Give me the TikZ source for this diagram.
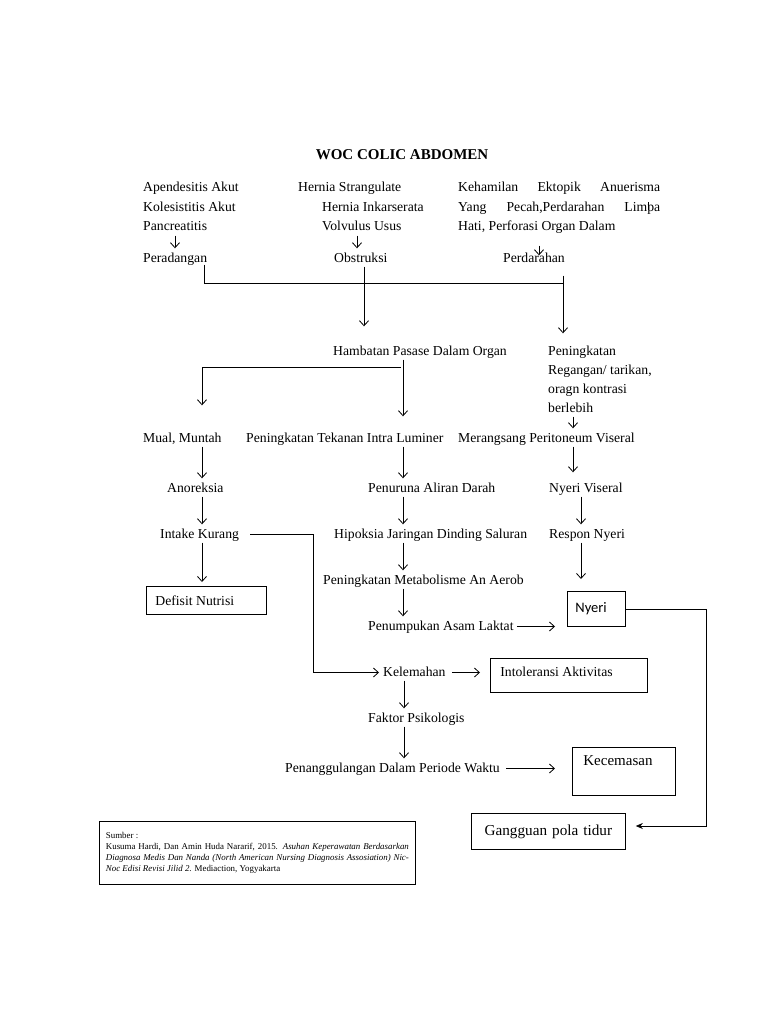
\documentclass[tikz,border=0pt]{standalone}
\usepackage{fontspec}
\setmainfont{Liberation Serif}
\newfontfamily\calib{Carlito}
\usetikzlibrary{arrows.meta,calc}
\begin{document}
\begin{tikzpicture}[x=1pt,y=-1pt,
  txt/.style={inner sep=0pt, anchor=base west, font=\fontsize{13.7}{16}\selectfont, text height=9.5pt, text depth=2.5pt},
  arr/.style={draw, line width=0.8pt, -{Straight Barb[length=5pt,width=9pt,line width=0.8pt]}, shorten <=2pt, shorten >=4pt},
  ln/.style={draw, line width=0.8pt},
  boxn/.style={draw, line width=0.8pt, anchor=north west, inner ysep=0pt, align=flush left, font=\fontsize{13.7}{16}\selectfont},
]
\fill[white] (0,0) rectangle (768,1024);
\useasboundingbox (0,0) rectangle (768,1024);

% title
\node[font=\fontsize{15}{18}\selectfont\bfseries, anchor=base, inner sep=0pt] (title) at (402,160) {WOC COLIC ABDOMEN};

% column A
\node[txt] (a1) at (143,192) {Apendesitis Akut};
\node[txt] (a2) at (143,212) {Kolesistitis Akut};
\node[txt] (a3) at (143,231) {Pancreatitis};
\node[txt] (a4) at (143,262) {Peradangan};
% column B
\node[txt] (b1) at (298,192) {Hernia Strangulate};
\node[txt] (b2) at (322,212) {Hernia Inkarserata};
\node[txt] (b3) at (322,231) {Volvulus Usus};
\node[txt] (b4) at (334,262) {Obstruksi};
% column C
\node[txt] (c1) at (458,192) {\makebox[202pt][s]{Kehamilan Ektopik Anuerisma}};
\node[txt] (c2) at (458,212) {\makebox[202pt][s]{Yang Pecah,Perdarahan Limpa}};
\node[txt] (c3) at (458,231) {Hati, Perforasi Organ Dalam};
\node[txt] (c4) at (503,262) {Perdarahan};

% second level
\node[txt] (d1) at (333,355) {Hambatan Pasase Dalam Organ};
\node[txt] (e1) at (548,355) {Peningkatan};
\node[txt] (e2) at (548,374) {Regangan/ tarikan,};
\node[txt] (e3) at (548,393) {oragn kontrasi};
\node[txt] (e4) at (548,412) {berlebih};

\node[txt] (f1) at (143,442) {Mual, Muntah};
\node[txt] (f2) at (246,442) {Peningkatan Tekanan Intra Luminer};
\node[txt] (f3) at (458,442) {Merangsang Peritoneum Viseral};

\node[txt] (g1) at (167,492) {Anoreksia};
\node[txt] (g2) at (368,492) {Penuruna Aliran Darah};
\node[txt] (g3) at (549,492) {Nyeri Viseral};

\node[txt] (h1) at (160,538) {Intake Kurang};
\node[txt] (h2) at (334,538) {Hipoksia Jaringan Dinding Saluran};
\node[txt] (h3) at (549,538) {Respon Nyeri};

\node[txt] (i2) at (323,584) {Peningkatan Metabolisme An Aerob};
\node[txt] (j2) at (368,630) {Penumpukan Asam Laktat};
\node[txt] (k)  at (383,676) {Kelemahan};
\node[txt] (l)  at (368,722) {Faktor Psikologis};
\node[txt] (m)  at (285,772) {Penanggulangan Dalam Periode Waktu};

% boxes
\node[boxn, minimum width=120pt, minimum height=28pt, inner xsep=9pt, text width=102pt] (defisit) at (146,586) {Defisit Nutrisi};
\node[boxn, minimum width=58pt, minimum height=35pt, inner xsep=8pt, text width=42pt, font=\calib\fontsize{14.5}{16}\selectfont] (nyeri) at (567,591) {Nyeri};
\node[boxn, minimum width=157pt, minimum height=34pt, inner xsep=10pt, text width=137pt, text depth=8pt] (intol) at (490,658) {Intoleransi Aktivitas};
\node[boxn, minimum width=103pt, minimum height=48pt, inner xsep=11pt, text width=81pt, text depth=21.5pt, font=\fontsize{15}{18}\selectfont] (kecem) at (572,747) {Kecemasan};
\node[boxn, minimum width=154pt, minimum height=36pt, inner xsep=5pt, text width=144pt, align=center, font=\fontsize{15.2}{18}\selectfont] (gangg) at (471,813) {Gangguan pola tidur};
\node[boxn, minimum width=316pt, minimum height=63pt, inner xsep=4pt, text width=303pt, font=\fontsize{8.9}{11}\selectfont] (src) at (99,821) {Sumber :\\
\makebox[303pt][s]{Kusuma Hardi, Dan Amin Huda Nararif, 2015. \textit{Asuhan Keperawatan Berdasarkan}}\\
\makebox[303pt][s]{\textit{Diagnosa Medis Dan Nanda (North American Nursing Diagnosis Assosiation) Nic-}}\\
\textit{Noc Edisi Revisi Jilid 2}. Mediaction, Yogyakarta};

% junction coordinates
\coordinate (J1) at (563,283);
\coordinate (J2) at (403,367);
\coordinate (J3) at (313,0);
\coordinate (J4) at (706,826);

% top arrows
\draw[arr] (a3.south -| 175,0) -- (a4.north -| 175,0);
\draw[arr] (b3.south -| 357,0) -- (b4.north -| 357,0);
\draw[arr] ($(c3.south -| 539,0)+(0,10)$) -- ($(c4.north -| 539,0)+(0,7)$);
\draw[ln] (c2.north -| 648,0) -- ($(c2.base -| 648,0)+(0,-2)$);

% merge to second level
\draw[ln] (a4.south -| 204,0) |- (J1);
\draw[arr] ($(c4.south -| J1)+(0,9)$) -- ($(e1.north -| J1)+(0,-8)$);
\draw[arr] (b4.south -| 364,0) -- ($(d1.north -| 364,0)+(0,-15)$);

% from Hambatan
\draw[arr] (d1.south -| J2) -- ($(f2.north -| J2)+(0,-12)$);
\draw[arr] (J2) -| ($(f1.north -| 202,0)+(0,-23)$);
\draw[arr] (e4.south -| 573,0) -- (f3.north -| 573,0);

% left column
\draw[arr] (f1.south -| 202,0) -- (g1.north -| 202,0);
\draw[arr] (g1.south -| 202,0) -- (h1.north -| 202,0);
\draw[arr] (h1.south -| 202,0) -- (defisit.north -| 202,0);

% middle column
\draw[arr] (f2.south -| 403,0) -- (g2.north -| 403,0);
\draw[arr] (g2.south -| 403,0) -- (h2.north -| 403,0);
\draw[arr] (h2.south -| 403,0) -- (i2.north -| 403,0);
\draw[arr] (i2.south -| 403,0) -- (j2.north -| 403,0);
\draw[arr, shorten <=3pt, shorten >=12pt] (j2.east) -- (j2.east -| nyeri.west);

% right column
\draw[arr] (f3.south -| 573,0) -- ($(g3.north -| 573,0)+(0,-6)$);
\draw[arr] (g3.south -| 581,0) -- (h3.north -| 581,0);
\draw[arr, shorten >=12pt] (h3.south -| 581,0) -- (nyeri.north -| 581,0);

% intake kurang to kelemahan
\draw[arr, shorten <=11pt] (h1.east) -| (J3 |- k.west) -- (k.west);
\draw[arr, shorten <=6pt, shorten >=10pt] (k.east) -- (k.east -| intol.west);
\draw[arr] (k.south -| 404,0) -- (l.north -| 404,0);
\draw[arr] (l.south -| 404,0) -- (m.north -| 404,0);
\draw[arr, shorten <=6pt, shorten >=17pt] (m.east) -- (m.east -| kecem.west);

% nyeri to gangguan
\draw[line width=0.8pt, -{Stealth[length=7pt,width=6pt]}, shorten >=10pt] (nyeri.east) -| (J4) -- (J4 -| gangg.east);
\end{tikzpicture}
\end{document}
